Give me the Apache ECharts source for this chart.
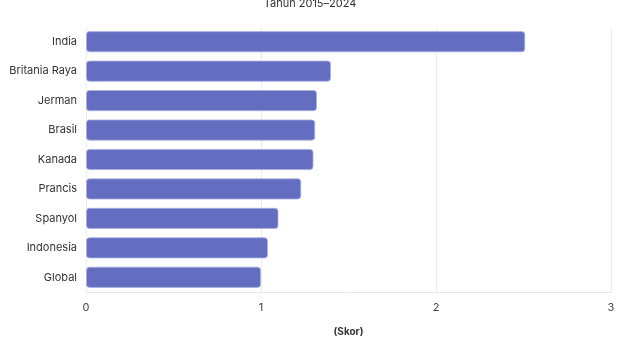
<!DOCTYPE html>
<html><head><meta charset="utf-8">
<script src="https://cdn.jsdelivr.net/npm/echarts@6/dist/echarts.min.js"></script>
<style>html,body{margin:0;padding:0;background:#fff}#c{width:620px;height:348px}</style>
</head><body><div id="c"></div>
<script>
const categories = ["India","Britania Raya","Jerman","Brasil","Kanada","Prancis","Spanyol","Indonesia","Global"];
const values = [2.51, 1.40, 1.32, 1.31, 1.30, 1.23, 1.10, 1.04, 1.00];
const xTicks = [0, 1, 2, 3];
const titleText = "Tahun 2015–2024";
const axisName = "(Skor)";

const chart = echarts.init(document.getElementById('c'), null, {renderer:'canvas'});
const font = 'Inter, "Noto Sans", sans-serif';
chart.setOption({
  animation: false,
  textStyle: {fontFamily: font},
  title: {text: titleText, left: 'center', top: -7, textStyle: {fontSize: 11, fontWeight: 'normal', color: '#333', fontFamily: font}},
  grid: {left: 86, right: 9, top: 27, bottom: 56, containLabel: false},
  xAxis: {
    type: 'value', min: xTicks[0], max: xTicks[xTicks.length-1], interval: 1,
    name: axisName, nameLocation: 'middle', nameGap: 35,
    nameTextStyle: {fontSize: 10, fontWeight: 'bold', color: '#333', fontFamily: font},
    axisLine: {show: true, lineStyle: {color: '#e6e6e6'}},
    axisTick: {show: false},
    axisLabel: {fontSize: 11, color: '#444', margin: 10, fontFamily: font},
    splitLine: {show: true, lineStyle: {color: '#ececec'}}
  },
  yAxis: {
    type: 'category', data: categories, inverse: true,
    axisLine: {show: false}, axisTick: {show: false},
    axisLabel: {fontSize: 11, color: '#333', margin: 9, fontFamily: font}
  },
  series: [{
    type: 'bar', data: values, barWidth: '72%',
    itemStyle: {color: '#636ec0', borderRadius: 3, borderColor: 'rgba(170,176,228,0.8)', borderWidth: 1}
  }]
});
</script></body></html>
